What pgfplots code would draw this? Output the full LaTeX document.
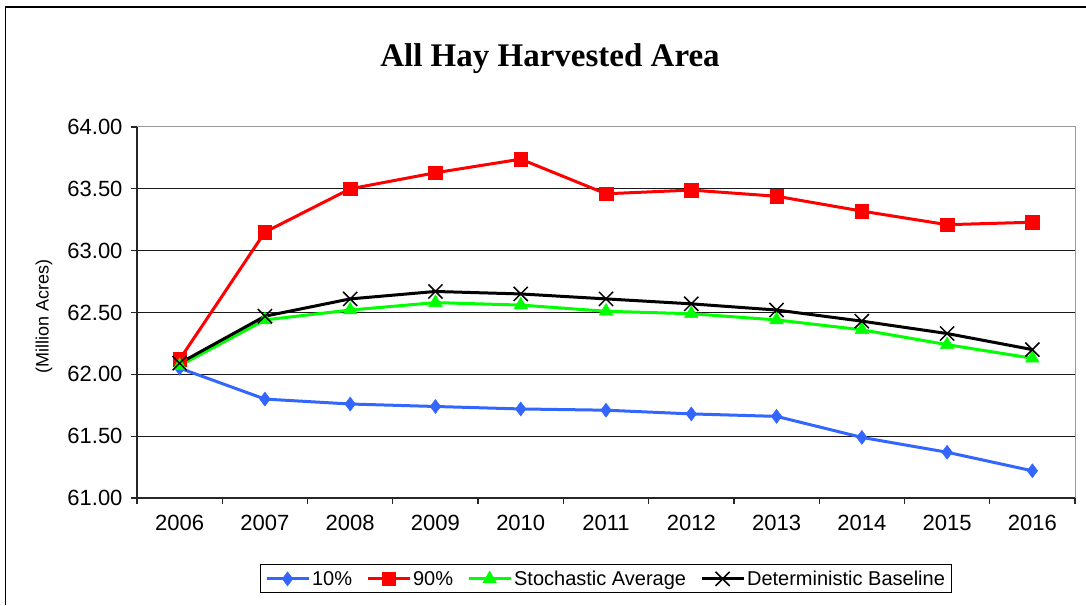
\documentclass[border=0pt]{standalone}
\usepackage{pgfplots}
\pgfplotsset{compat=1.18}
\usepackage{fontspec}
\setmainfont{Liberation Sans}
\newfontfamily\titlefont{Liberation Serif}
\definecolor{cblue}{RGB}{51,102,255}
\definecolor{cred}{RGB}{255,0,0}
\definecolor{cgreen}{RGB}{0,255,0}
\begin{document}
\begin{tikzpicture}
\useasboundingbox (0pt,0pt) rectangle (1086pt,605pt);
\draw[line width=1.5pt] (5.5pt,0pt) -- (5.5pt,598pt) -- (1086pt,598pt);
\begin{axis}[
  at={(137pt,107pt)}, anchor=south west,
  scale only axis, width=938pt, height=371pt,
  xmin=2005.5, xmax=2016.5, ymin=61, ymax=64,
  axis x line*=bottom, axis y line*=left,
  axis line style={line width=1.5pt, black!85},
  xtick={2006,2007,2008,2009,2010,2011,2012,2013,2014,2015,2016},
  xticklabels={2006,2007,2008,2009,2010,2011,2012,2013,2014,2015,2016},
  major x tick style={draw=none},
  minor xtick={2005.5,2006.5,2007.5,2008.5,2009.5,2010.5,2011.5,2012.5,2013.5,2014.5,2015.5,2016.5},
  minor x tick style={line width=1.2pt, black!85},
  ytick={61,61.5,62,62.5,63,63.5,64},
  yticklabel={\pgfmathprintnumber[fixed,fixed zerofill,precision=2]{\tick}},
  y tick style={line width=1.2pt, black!85},
  tick align=outside, major tick length=6pt, minor tick length=6pt,
  ymajorgrids, major grid style={black!90, line width=1pt},
  /pgf/number format/assume math mode=true,
  ticklabel style={font=\fontsize{22}{24}\selectfont},
  xticklabel style={yshift=-8pt},
  yticklabel style={xshift=-5pt},
  clip=false,
  legend style={at={(0.5,-0.218)}, anchor=center, legend columns=4,
    draw=black, line width=1pt, font=\fontsize{20}{22}\selectfont,
    /tikz/every even column/.append style={column sep=12pt},
    inner xsep=5pt, inner ysep=4pt},
  legend cell align=left,
  legend image code/.code={\draw[mark repeat=2,mark phase=2,#1] plot coordinates {(0pt,0pt) (21pt,0pt) (42pt,0pt)};},
]
\draw[gray!80, line width=1pt] (rel axis cs:0,1) -- (rel axis cs:1,1) -- (rel axis cs:1,0);
\addplot[color=cblue, line width=3pt, mark=diamond*, mark size=7pt, mark options={solid, fill=cblue, line width=0.5pt}] coordinates {
(2006,62.05) (2007,61.80) (2008,61.76) (2009,61.74) (2010,61.72) (2011,61.71) (2012,61.68) (2013,61.66) (2014,61.49) (2015,61.37) (2016,61.22)};
\addlegendentry{10\%}
\addplot[color=cred, line width=3pt, mark=square*, mark size=6.8pt, mark options={solid, fill=cred, line width=0.5pt}] coordinates {
(2006,62.12) (2007,63.15) (2008,63.50) (2009,63.63) (2010,63.74) (2011,63.46) (2012,63.49) (2013,63.44) (2014,63.32) (2015,63.21) (2016,63.23)};
\addlegendentry{90\%}
\addplot[color=cgreen, line width=3pt, mark=triangle*, mark size=7.8pt, mark options={solid, fill=cgreen, line width=0.5pt}] coordinates {
(2006,62.07) (2007,62.44) (2008,62.52) (2009,62.58) (2010,62.56) (2011,62.51) (2012,62.49) (2013,62.44) (2014,62.36) (2015,62.24) (2016,62.13)};
\addlegendentry{Stochastic Average}
\addplot[color=black, line width=3pt, mark=x, mark size=10pt, mark options={solid, line width=1.5pt}] coordinates {
(2006,62.09) (2007,62.47) (2008,62.61) (2009,62.67) (2010,62.65) (2011,62.61) (2012,62.57) (2013,62.52) (2014,62.43) (2015,62.33) (2016,62.20)};
\addlegendentry{Deterministic Baseline}
\end{axis}
\node[font=\titlefont\bfseries\fontsize{33}{36}\selectfont] at (550pt,546pt) {All Hay Harvested Area};
\node[rotate=90, font=\fontsize{18}{20}\selectfont] at (44pt,289pt) {(Million Acres)};
\end{tikzpicture}
\end{document}
